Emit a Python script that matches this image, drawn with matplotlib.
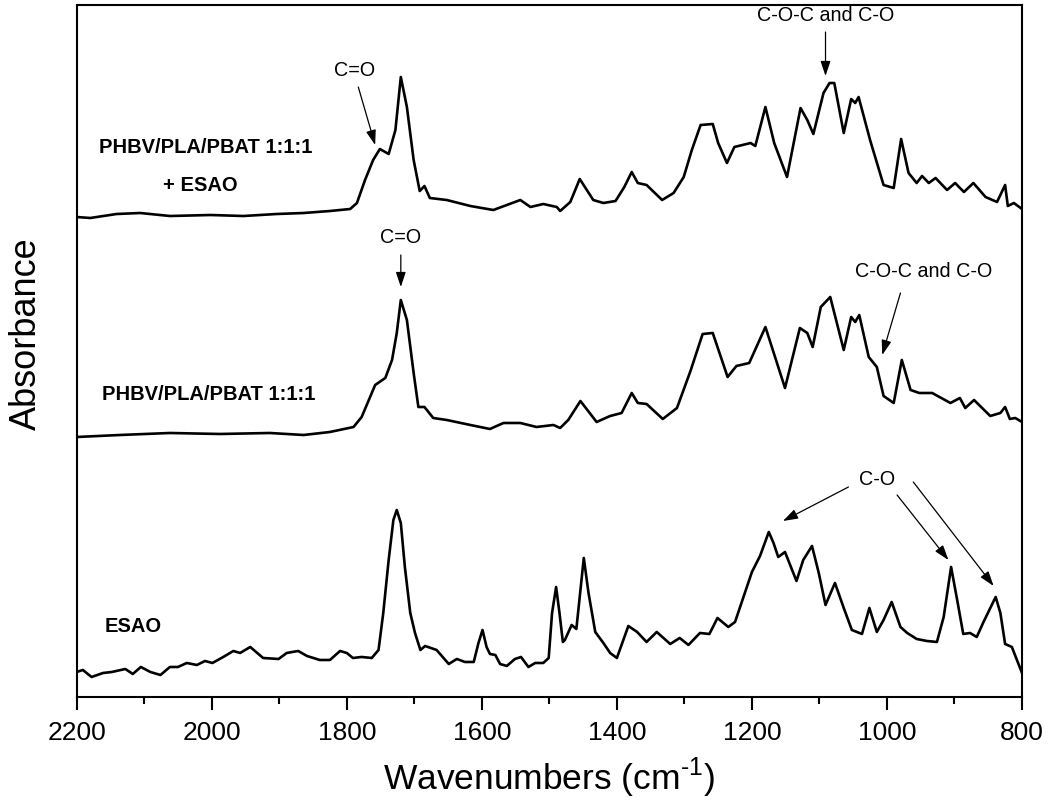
import matplotlib
matplotlib.use("Agg")
import matplotlib.pyplot as plt

plt.rcParams['font.family'] = ['Liberation Sans', 'DejaVu Sans']
plt.rcParams['mathtext.fontset'] = 'custom'
plt.rcParams['mathtext.rm'] = 'Liberation Sans'

# PHBV/PLA/PBAT 1:1:1 + ESAO (top trace, offset included)
wn_top = [2200, 2180, 2141, 2106, 2062, 2002, 1953, 1904, 1864, 1825,
          1795, 1785, 1773, 1761, 1751, 1738, 1728, 1720, 1711, 1701,
          1692, 1685, 1677, 1652, 1617, 1583, 1563, 1543, 1528, 1509,
          1489, 1484, 1469, 1455, 1435, 1420, 1402, 1389, 1378, 1369,
          1356, 1333, 1316, 1301, 1289, 1276, 1258, 1250, 1237, 1226,
          1202, 1195, 1180, 1167, 1148, 1128, 1118, 1109, 1094, 1085,
          1078, 1064, 1053, 1047, 1042, 1025, 1005, 990, 979, 968,
          956, 948, 938, 928, 911, 899, 886, 872, 854, 837,
          825, 821, 812, 800]
abs_top = [4.80, 4.79, 4.83, 4.84, 4.81, 4.82, 4.81, 4.83, 4.84, 4.86,
           4.88, 4.94, 5.17, 5.37, 5.48, 5.43, 5.67, 6.20, 5.90, 5.37,
           5.06, 5.11, 4.99, 4.97, 4.91, 4.87, 4.92, 4.97, 4.90, 4.93,
           4.90, 4.86, 4.95, 5.18, 4.97, 4.94, 4.96, 5.10, 5.25, 5.14,
           5.12, 4.97, 5.04, 5.20, 5.47, 5.72, 5.73, 5.54, 5.34, 5.50,
           5.54, 5.51, 5.90, 5.54, 5.20, 5.89, 5.77, 5.63, 6.04, 6.14,
           6.14, 5.64, 5.98, 5.94, 6.00, 5.57, 5.12, 5.09, 5.58, 5.24,
           5.14, 5.21, 5.14, 5.19, 5.07, 5.14, 5.05, 5.14, 5.00, 4.95,
           5.12, 4.91, 4.94, 4.88]

# PHBV/PLA/PBAT 1:1:1 (middle trace)
wn_mid = [2200, 2136, 2062, 1988, 1914, 1864, 1825, 1790, 1778, 1758,
          1743, 1733, 1726, 1720, 1711, 1701, 1694, 1685, 1672, 1652,
          1617, 1588, 1568, 1543, 1519, 1494, 1484, 1472, 1454, 1430,
          1410, 1393, 1378, 1369, 1356, 1332, 1311, 1291, 1273, 1258,
          1236, 1223, 1204, 1180, 1151, 1129, 1118, 1110, 1098, 1084,
          1064, 1053, 1047, 1041, 1027, 1015, 1005, 990, 978, 965,
          952, 933, 906, 892, 884, 871, 847, 832, 825, 818,
          810, 800]
abs_mid = [2.60, 2.62, 2.64, 2.63, 2.64, 2.62, 2.65, 2.70, 2.80, 3.12,
           3.19, 3.37, 3.64, 3.97, 3.77, 3.24, 2.90, 2.90, 2.79, 2.77,
           2.72, 2.68, 2.74, 2.74, 2.70, 2.72, 2.69, 2.77, 2.96, 2.75,
           2.81, 2.84, 3.04, 2.94, 2.93, 2.78, 2.89, 3.26, 3.63, 3.64,
           3.20, 3.31, 3.34, 3.70, 3.09, 3.69, 3.64, 3.50, 3.90, 4.00,
           3.47, 3.80, 3.75, 3.82, 3.40, 3.30, 3.01, 2.94, 3.37, 3.07,
           3.04, 3.04, 2.94, 2.99, 2.89, 2.97, 2.81, 2.84, 2.90, 2.78,
           2.79, 2.75]

# ESAO (bottom trace)
wn_bot = [2200, 2191, 2178, 2161, 2148, 2128, 2117, 2105, 2091, 2076,
          2062, 2050, 2037, 2022, 2010, 1999, 1983, 1968, 1958, 1943,
          1924, 1901, 1889, 1872, 1859, 1840, 1825, 1810, 1800, 1791,
          1778, 1763, 1753, 1746, 1738, 1731, 1726, 1720, 1714, 1706,
          1699, 1691, 1684, 1667, 1649, 1637, 1625, 1612, 1605, 1599,
          1593, 1588, 1580, 1573, 1563, 1551, 1542, 1531, 1521, 1509,
          1501, 1496, 1490, 1485, 1480, 1477, 1467, 1460, 1449, 1442,
          1432, 1420, 1410, 1400, 1383, 1370, 1356, 1341, 1321, 1307,
          1294, 1277, 1263, 1251, 1235, 1225, 1212, 1200, 1188, 1175,
          1168, 1161, 1151, 1134, 1124, 1111, 1101, 1091, 1077, 1064,
          1052, 1037, 1026, 1015, 1005, 993, 980, 970, 956, 941,
          926, 916, 905, 896, 887, 877, 867, 857, 839, 832,
          825, 815, 800]
abs_bot = [0.25, 0.27, 0.20, 0.24, 0.25, 0.28, 0.23, 0.30, 0.25, 0.22,
           0.30, 0.30, 0.34, 0.32, 0.36, 0.34, 0.40, 0.46, 0.44, 0.50,
           0.39, 0.38, 0.44, 0.46, 0.41, 0.37, 0.37, 0.46, 0.44, 0.39,
           0.40, 0.39, 0.47, 0.84, 1.37, 1.77, 1.87, 1.74, 1.30, 0.84,
           0.64, 0.47, 0.51, 0.47, 0.33, 0.38, 0.35, 0.35, 0.54, 0.67,
           0.50, 0.43, 0.42, 0.33, 0.31, 0.38, 0.40, 0.30, 0.34, 0.34,
           0.39, 0.84, 1.10, 0.84, 0.55, 0.57, 0.72, 0.68, 1.39, 1.04,
           0.65, 0.54, 0.44, 0.39, 0.71, 0.65, 0.55, 0.65, 0.53, 0.59,
           0.52, 0.64, 0.63, 0.79, 0.70, 0.75, 1.01, 1.25, 1.41, 1.65,
           1.54, 1.40, 1.45, 1.16, 1.37, 1.51, 1.24, 0.92, 1.14, 0.89,
           0.67, 0.63, 0.89, 0.65, 0.77, 0.95, 0.70, 0.64, 0.58, 0.56,
           0.55, 0.80, 1.30, 0.97, 0.63, 0.64, 0.60, 0.75, 1.00, 0.84,
           0.53, 0.50, 0.24]

# sample labels: text, position (wavenumber, absorbance)
sample_labels = ["PHBV/PLA/PBAT 1:1:1", "+ ESAO", "PHBV/PLA/PBAT 1:1:1", "ESAO"]
sample_label_pos = [(2009, 5.50), (2017, 5.12), (2005, 3.02), (2116, 0.70)]

# band labels and arrows (tail -> head)
band_labels = ["C=O", "C-O-C and C-O", "C=O", "C-O-C and C-O", "C-O"]
band_label_pos = [(1788, 6.27), (1091, 6.82), (1720, 4.59), (946, 4.25), (1015, 2.17)]
arrows = [((1783, 6.10), (1758, 5.52)),
          ((1091, 6.65), (1091, 6.21)),
          ((1720, 4.42), (1720, 4.10)),
          ((980, 4.04), (1007, 3.42)),
          ((1057, 2.10), (1154, 1.76)),
          ((985, 2.02), (909, 1.37)),
          ((961, 2.15), (842, 1.11))]

fig = plt.figure(figsize=(10.51, 8.08), dpi=100)
ax = fig.add_axes([0.073, 0.1374, 0.8994, 0.8564])

for wn, a in [(wn_top, abs_top), (wn_mid, abs_mid), (wn_bot, abs_bot)]:
    ax.plot(wn, a, color='black', lw=1.9, solid_joinstyle='round')

ax.set_xlim(2200, 800)
ax.set_ylim(0, 6.92)
ax.set_xticks([2200, 2000, 1800, 1600, 1400, 1200, 1000, 800])
ax.set_xticks([2100, 1900, 1700, 1500, 1300, 1100, 900], minor=True)
ax.set_yticks([])
ax.tick_params(axis='x', which='major', length=9, width=1.5, labelsize=19, pad=8)
ax.tick_params(axis='x', which='minor', length=5, width=1.5)
for s in ax.spines.values():
    s.set_linewidth(1.5)

ax.set_xlabel(r"Wavenumbers (cm$^{\text{-1}}$)", fontsize=25.5, labelpad=8)
ax.set_ylabel("Absorbance", fontsize=26)
ax.yaxis.set_label_coords(-0.035, 0.525)

for txt, (x, y) in zip(sample_labels, sample_label_pos):
    ax.text(x, y, txt, fontsize=14.5, fontweight='bold', ha='center', va='center')

for txt, (x, y) in zip(band_labels, band_label_pos):
    ax.text(x, y, txt, fontsize=14.2, ha='center', va='center')

for tail, head in arrows:
    ax.annotate('', xy=head, xytext=tail,
                arrowprops=dict(arrowstyle='-|>,head_length=0.9,head_width=0.3',
                                color='black', lw=0.9, shrinkA=0, shrinkB=0,
                                mutation_scale=10))

fig.savefig("out.png", dpi=100)
